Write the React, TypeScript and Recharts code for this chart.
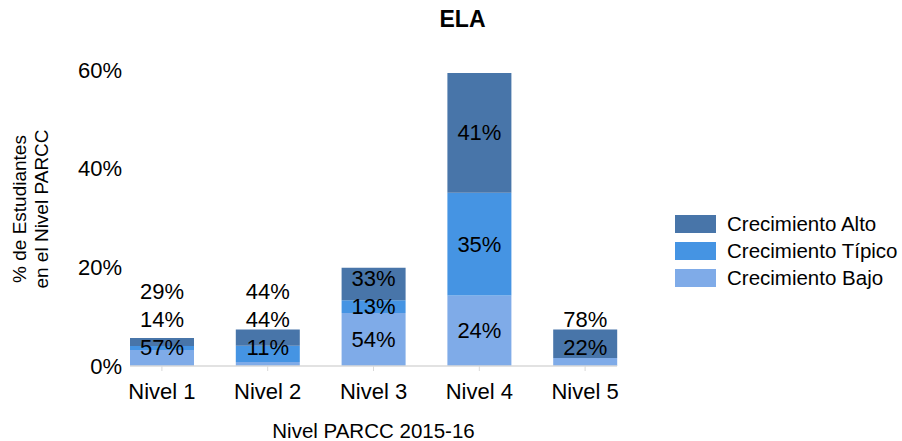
import { BarChart, Bar, XAxis, YAxis, Legend, LabelList, Label } from 'recharts';

const NIVELES = ['Nivel 1', 'Nivel 2', 'Nivel 3', 'Nivel 4', 'Nivel 5'];

// % de estudiantes en cada nivel, por tipo de crecimiento
const BAJO = [3.25, 0.8, 10.75, 14.3, 1.63];
const TIPICO = [0.8, 3.3, 2.6, 20.8, 0];
const ALTO = [1.65, 3.3, 6.55, 24.3, 5.77];

// etiquetas que muestra el gráfico (reparto dentro de cada nivel)
const BAJO_LBL = ['57%', '11%', '54%', '24%', '22%'];
const TIPICO_LBL = ['14%', '44%', '13%', '35%', ''];
const ALTO_LBL = ['29%', '44%', '33%', '41%', '78%'];

const Y_TICKS = [0, 20, 40, 60];

const FONT = '"Liberation Sans", Arial, sans-serif';

const SERIES = [
  { key: 'bajo', name: 'Crecimiento Bajo', color: '#7FABE8', label: 'bajoLbl' },
  { key: 'tipico', name: 'Crecimiento Típico', color: '#4594E3', label: 'tipicoLbl' },
  { key: 'alto', name: 'Crecimiento Alto', color: '#4875A9', label: 'altoLbl' },
];

const data = NIVELES.map((nivel, i) => ({
  nivel,
  bajo: BAJO[i],
  tipico: TIPICO[i],
  alto: ALTO[i],
  bajoLbl: BAJO_LBL[i],
  tipicoLbl: TIPICO_LBL[i],
  altoLbl: ALTO_LBL[i],
}));

// Labels sit at the segment centre, but get pushed up when they would collide
const makeLabel = (s: number) => (props: any) => {
  const vb = props.viewBox ?? props;
  const { index, value } = props;
  const segs = [BAJO[index], TIPICO[index], ALTO[index]];
  if (!value || !segs[s]) return null;
  const h = Math.abs(vb.height);
  const top = Math.min(vb.y, vb.y + vb.height);
  const ppu = h / segs[s];
  let below = 0;
  for (let k = 0; k < s; k++) below += segs[k];
  const baseline = top + h + below * ppu;

  let prev = baseline - 19 + 28;
  let cum = 0;
  let pos = 0;
  for (let k = 0; k <= s; k++) {
    const c = baseline - (cum + segs[k] / 2) * ppu;
    cum += segs[k];
    if (!segs[k]) continue;
    pos = Math.min(c, prev - 28);
    prev = pos;
  }
  return (
    <text
      x={vb.x + vb.width / 2}
      y={pos}
      textAnchor="middle"
      dominantBaseline="central"
      fill="#000"
      fontSize={22}
      fontFamily={FONT}
    >
      {value}
    </text>
  );
};

const LegendBox = () => (
  <div style={{ fontFamily: FONT, fontSize: 20.5, color: '#000' }}>
    {[...SERIES].reverse().map((s) => (
      <div key={s.key} style={{ display: 'flex', alignItems: 'center', height: 27 }}>
        <span style={{ width: 41, height: 18, background: s.color, display: 'inline-block' }} />
        <span style={{ marginLeft: 11, whiteSpace: 'nowrap' }}>{s.name}</span>
      </div>
    ))}
  </div>
);

export default function App() {
  return (
    <div style={{ position: 'absolute', left: 0, top: 0, width: 902, height: 441, background: '#fff' }}>
      <div
        style={{
          position: 'absolute',
          left: 0,
          width: 925,
          top: 6,
          textAlign: 'center',
          fontFamily: FONT,
          fontWeight: 'bold',
          fontSize: 23,
        }}
      >
        ELA
      </div>
      <BarChart
        width={902}
        height={441}
        data={data}
        margin={{ top: 70, right: 285, bottom: 1, left: 70 }}
        barSize={64}
      >
        <XAxis
          dataKey="nivel"
          padding={{ left: -21, right: -21 }}
          height={74}
          axisLine={{ stroke: '#d9d9d9', strokeWidth: 1.5 }}
          tickLine={{ stroke: '#d9d9d9' }}
          tickSize={5}
          tickMargin={12}
          tick={{ fill: '#000', fontSize: 22, fontFamily: FONT }}
        >
          <Label
            content={(p: any) => (
              <text
                x={p.viewBox.x + p.viewBox.width / 2}
                y={p.viewBox.y + 72}
                textAnchor="middle"
                fontSize={20.5}
                fontFamily={FONT}
                fill="#000"
              >
                Nivel PARCC 2015-16
              </text>
            )}
          />
        </XAxis>
        <YAxis
          width={60}
          domain={[0, 60]}
          ticks={Y_TICKS}
          tickFormatter={(v) => `${v}%`}
          axisLine={false}
          tickLine={false}
          tickSize={0}
          tickMargin={8}
          tick={{ fill: '#000', fontSize: 22, fontFamily: FONT }}
        >
          <Label
            content={() => (
              <text
                transform="translate(30,209) rotate(-90)"
                textAnchor="middle"
                fontSize={19}
                fontFamily={FONT}
                fill="#000"
              >
                <tspan x={0} y={-11} dominantBaseline="central">% de Estudiantes</tspan>
                <tspan x={0} y={11} dominantBaseline="central">en el Nivel PARCC</tspan>
              </text>
            )}
          />
        </YAxis>
        <Legend
          layout="vertical"
          align="center"
          verticalAlign="middle"
          content={() => <LegendBox />}
          wrapperStyle={{ left: 675, top: 210, width: 230 }}
        />
        {SERIES.map((s, i) => (
          <Bar key={s.key} dataKey={s.key} name={s.name} stackId="a" fill={s.color} isAnimationActive={false}>
            <LabelList dataKey={s.label} content={makeLabel(i)} />
          </Bar>
        ))}
      </BarChart>
    </div>
  );
}
